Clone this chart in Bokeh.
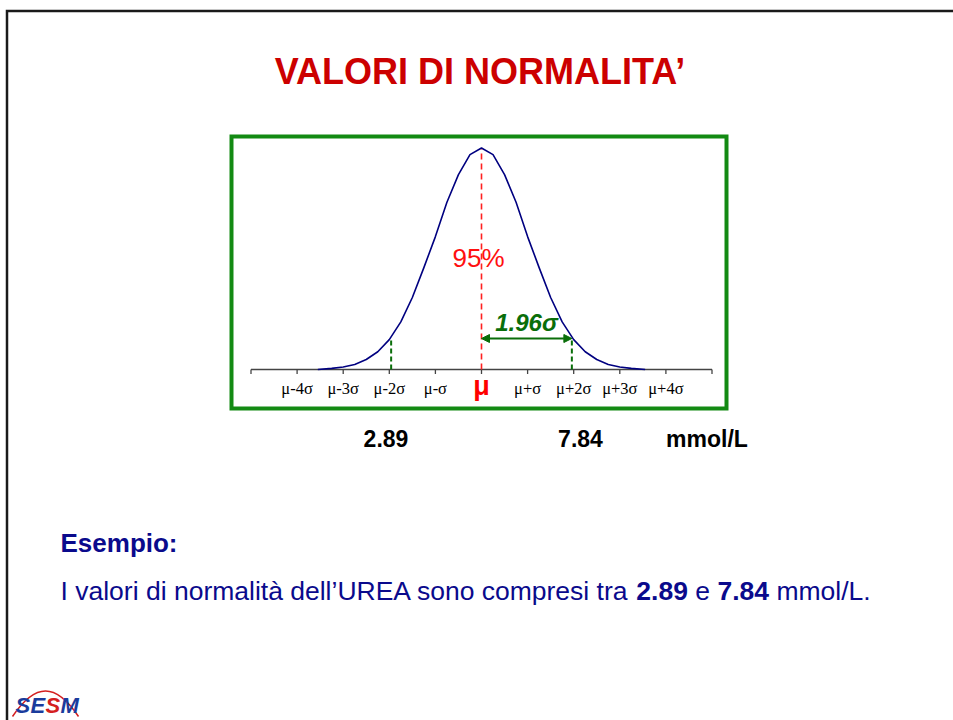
from bokeh.plotting import figure
from bokeh.models import Range1d, Arrow, NormalHead
from bokeh.core.properties import value
from bokeh.embed import file_html
from bokeh.resources import INLINE

# ---------------- data ----------------
curve_sigma = [-3.55, -3.25, -3.0, -2.75, -2.5, -2.25, -2.0, -1.75, -1.5, -1.25, -1.0,
               -0.75, -0.5, -0.25, 0.0, 0.25, 0.5, 0.75, 1.0, 1.25, 1.5, 1.75, 2.0,
               2.25, 2.5, 2.75, 3.0, 3.25, 3.55]
curve_height = [0.0, 0.005, 0.011, 0.023, 0.045, 0.08, 0.135, 0.215, 0.325, 0.46, 0.6,
                0.755, 0.88, 0.97, 1.0, 0.97, 0.88, 0.755, 0.6, 0.46, 0.325, 0.215, 0.135,
                0.08, 0.045, 0.023, 0.011, 0.005, 0.0]
tick_positions = [-5, -4, -3, -2, -1, 0, 1, 2, 3, 4, 5]
tick_labels = ["", "μ-4σ", "μ-3σ", "μ-2σ", "μ-σ", "", "μ+σ", "μ+2σ", "μ+3σ", "μ+4σ", ""]
mu_label = "μ"
ci_z = [-1.96, 1.96]
ci_height = [0.145, 0.145]
ci_label = "1.96σ"
pct_label = "95%"
limits = ["2.89", "7.84"]
unit = "mmol/L"
title_text = "VALORI DI NORMALITA’"
example_head = "Esempio:"
example_parts = ["I valori di normalità dell’UREA sono compresi tra ", "2.89", "e", "7.84", "mmol/L."]

# ---------------- page geometry helpers (picture pixels) ----------------
W, H = 953, 720
MU_PX, SIG_PX = 481.0, 46.1
BASE_PY, UNIT_PY = 369.0, 221.5


def X(px):
    return (px - MU_PX) / SIG_PX


def Y(py):
    return (BASE_PY - py) / UNIT_PY


p = figure(width=W, height=H, output_backend="svg", toolbar_location=None,
           x_range=Range1d(X(0), X(W)), y_range=Range1d(Y(H), Y(0)),
           x_axis_location=None, y_axis_location=None, min_border=0,
           outline_line_color=None, background_fill_color="white",
           border_fill_color="white")
p.grid.visible = False


def txt(x, y, s, size, color, style="normal", font="Liberation Sans", align="left"):
    p.text(x=[X(x)], y=[Y(y)], text=[s], text_font=value(font),
           text_font_size=value(f"{size}px"), text_font_style=style, text_color=color,
           text_align=align, text_baseline="middle")


# slide border (top + left)
p.line(x=[X(W), X(6.5), X(6.5)], y=[Y(10.5), Y(10.5), Y(H)],
       line_color="#1a1a1a", line_width=2.5, line_join="miter")

# title
txt(479.5, 71, title_text, 36, "#cc0000", style="bold", align="center")

# green frame around the chart
p.quad(left=[X(231)], right=[X(726)], top=[Y(136)], bottom=[Y(408)],
       fill_color=None, line_color="#138a13", line_width=4, line_join="miter")

# axis baseline and ticks
p.line(x=[tick_positions[0], tick_positions[-1]], y=[0, 0], line_color="#444444",
       line_width=1.3)
p.segment(x0=tick_positions, y0=[0] * len(tick_positions), x1=tick_positions,
          y1=[Y(373.5)] * len(tick_positions), line_color="#444444", line_width=1.3)
p.text(x=tick_positions, y=[Y(388)] * len(tick_positions), text=tick_labels,
       text_font=value("Liberation Serif"), text_font_size=value("16.5px"),
       text_color="#000000", text_align="center", text_baseline="middle")
p.text(x=[0], y=[Y(385)], text=[mu_label], text_font=value("Liberation Sans"),
       text_font_size=value("27px"), text_font_style="bold", text_color="#ff0000",
       text_align="center", text_baseline="middle")

# mean line
p.segment(x0=[0], y0=[0], x1=[0], y1=[max(curve_height)], line_color="#ff2020",
          line_width=1.6, line_dash="6 4")

# 1.96 sigma limits
p.segment(x0=ci_z, y0=[0, 0], x1=ci_z, y1=ci_height, line_color="#0a6e0a",
          line_width=2, line_dash="5 3")

# curve
p.line(x=curve_sigma, y=curve_height, line_color="#000080", line_width=1.6)

# 95% label
txt(478, 257.5, pct_label, 26, "#ff1010", align="center")

# arrow mu -> +1.96 sigma
head_kw = dict(size=8, fill_color="#0a6e0a", line_color="#0a6e0a", line_width=1)
p.add_layout(Arrow(x_start=0, y_start=Y(338), x_end=ci_z[1], y_end=Y(338),
                   start=NormalHead(**head_kw), end=NormalHead(**head_kw),
                   line_color="#0a6e0a", line_width=2))
txt(526, 322, ci_label, 24, "#0a6e0a", style="bold italic", align="center")

# limits below the chart
txt(385.5, 438, limits[0], 23, "black", style="bold", align="center")
txt(580, 438, limits[1], 23, "black", style="bold", align="center")
txt(706.5, 438, unit, 23, "black", style="bold", align="center")

# example text
navy = "#0a0a8c"
txt(60, 542, example_head, 26, navy, style="bold")
txt(60, 590, example_parts[0], 26.5, navy)
txt(635.8, 590, example_parts[1], 26.5, navy, style="bold")
txt(694.8, 590, example_parts[2], 26.5, navy)
txt(716.9, 590, example_parts[3], 26.5, navy, style="bold")
txt(775.9, 590, example_parts[4], 26.5, navy)

# logo
p.bezier(x0=[X(12)], y0=[Y(716)], x1=[X(78)], y1=[Y(716)],
         cx0=[X(35)], cy0=[Y(682)], cx1=[X(55)], cy1=[Y(682)],
         line_color="#d42020", line_width=1.5)
logo_letters = ["S", "E", "S", "M"]
logo_x = [15, 30, 45, 60]
logo_colors = ["#1a3c9c", "#1a3c9c", "#d42020", "#1a3c9c"]
for lx, lt, lc in zip(logo_x, logo_letters, logo_colors):
    txt(lx, 705, lt, 22, lc, style="bold italic")

open("out.html", "w").write(file_html(p, INLINE))
